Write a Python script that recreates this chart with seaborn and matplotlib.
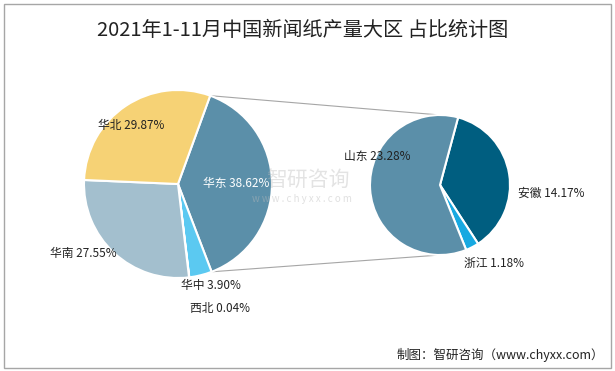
import numpy as np
import matplotlib.pyplot as plt
import seaborn as sns
from matplotlib.patches import Rectangle

# data: regional share of newsprint output, Jan-Nov 2021
regions = ['华东', '华中', '西北', '华南', '华北']
region_share = [38.62, 3.90, 0.04, 27.55, 29.87]
# breakdown of 华东
provinces = ['安徽', '浙江', '山东']
province_share = [14.17, 1.18, 23.28]

title = '2021年1-11月中国新闻纸产量大区 占比统计图'
source = '制图：智研咨询（www.chyxx.com）'

region_colors = ['#5B8FA9', '#5BC9F1', '#5B8FA9', '#A3BFCE', '#F6D275']
province_colors = ['#005E80', '#17A9E1', '#5B8FA9']

# label placement: (distance in radii, angle nudge in degrees)
region_label_pos = [(0.62, 0), (1.14, 4), (1.40, 12), (1.25, -11), (0.80, 5)]
province_label_pos = [(1.59, -13), (1.36, 7), (0.99, -28)]
region_label_color = ['white', '#222222', '#222222', '#222222', '#222222']

sns.set_theme(style='white')
plt.rcParams['font.family'] = ['Noto Sans CJK SC', 'DejaVu Sans']

W, H = 615, 371
fig = plt.figure(figsize=(W / 100, H / 100), dpi=100)
ax = fig.add_axes([0, 0, 1, 1])

left_c, left_r = (178, H - 184), 94
right_c, right_r = (440, H - 185), 70

wl, _ = ax.pie(region_share, colors=region_colors, startangle=70, counterclock=False,
               center=left_c, radius=left_r,
               wedgeprops=dict(edgecolor='white', linewidth=1.5))
wr, _ = ax.pie(province_share, colors=province_colors, startangle=75, counterclock=False,
               center=right_c, radius=right_r,
               wedgeprops=dict(edgecolor='white', linewidth=1.5))


def put_labels(wedges, names, values, pos, center, r, colors):
    for w, n, v, (d, nudge), c in zip(wedges, names, values, pos, colors):
        ang = np.deg2rad((w.theta1 + w.theta2) / 2 + nudge)
        x = center[0] + d * r * np.cos(ang)
        y = center[1] + d * r * np.sin(ang)
        ax.text(x, y, f'{n} {v:.2f}%', ha='center', va='center', fontsize=8.5, color=c)


put_labels(wl, regions, region_share, region_label_pos, left_c, left_r, region_label_color)
put_labels(wr, provinces, province_share, province_label_pos, right_c, right_r, ['#222222'] * 3)

# connector lines from the 华东 slice to the breakdown pie
east = wl[0]
for theta, sign in [(east.theta2, 1), (east.theta1, -1)]:
    a = np.deg2rad(theta)
    x0 = left_c[0] + left_r * np.cos(a)
    y0 = left_c[1] + left_r * np.sin(a)
    ax.plot([x0, right_c[0]], [y0, right_c[1] + sign * right_r], color='#A6A6A6', lw=0.8, zorder=0)

# watermark
ax.text(308, H - 180, '智研咨询', fontsize=15, color='#BBBBBB', alpha=0.4, ha='center', va='center')
ax.text(302, H - 199, 'w w w . c h y x x . c o m', fontsize=7, color='#BBBBBB', alpha=0.45,
        ha='center', va='center')

ax.text(W / 2 - 5, H - 30, title, fontsize=14.5, ha='center', va='center', color='#222222')
ax.text(604, H - 355, source, fontsize=9, ha='right', va='center', color='#222222')

ax.add_patch(Rectangle((4, 3), W - 8, H - 7, fill=False, edgecolor='#A6A6A6', lw=1))

ax.set_xlim(0, W)
ax.set_ylim(0, H)
ax.set_aspect('equal')
ax.axis('off')

fig.savefig('out.png', dpi=100)
